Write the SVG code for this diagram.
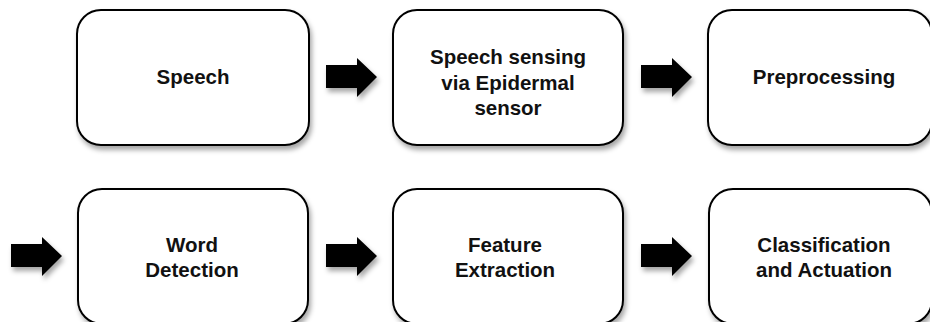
<svg xmlns="http://www.w3.org/2000/svg" width="930" height="322" viewBox="0 0 930 322">
<defs>
<filter id="sh" x="-10%" y="-10%" width="130%" height="140%">
<feDropShadow dx="2" dy="4" stdDeviation="2.5" flood-color="#000" flood-opacity="0.35"/>
</filter>
<path id="arr" d="M0,0 H31 V-7 L51,12 L31,32 V23 H0 Z"/>
</defs>
<style>
.box{fill:#fff;stroke:#000;stroke-width:2;filter:url(#sh)}
.lbl{font-family:"Liberation Sans",Arial,sans-serif;font-weight:bold;font-size:20.5px;fill:#111;text-anchor:middle}
.ar{fill:#000;filter:url(#sh)}
</style>
<rect width="930" height="322" fill="#fff"/>
<g id="connectors">
<use href="#arr" class="ar" x="326" y="65"/>
<use href="#arr" class="ar" x="641" y="65"/>
<use href="#arr" class="ar" x="11" y="244"/>
<use href="#arr" class="ar" x="326" y="244"/>
<use href="#arr" class="ar" x="641" y="244"/>
</g>
<g id="speech">
<rect class="box" x="77" y="10" width="232" height="135" rx="24"/>
<text class="lbl" x="193" y="84">Speech</text>
</g>
<g id="sensing">
<rect class="box" x="393" y="10" width="230" height="135" rx="24"/>
<text class="lbl" x="508" y="64">Speech sensing</text>
<text class="lbl" x="508" y="90">via Epidermal</text>
<text class="lbl" x="508" y="115">sensor</text>
</g>
<g id="preprocessing">
<rect class="box" x="708" y="10" width="224" height="135" rx="24"/>
<text class="lbl" x="824" y="84">Preprocessing</text>
</g>
<g id="word">
<rect class="box" x="78" y="189" width="230" height="135" rx="24"/>
<text class="lbl" x="192" y="252">Word</text>
<text class="lbl" x="192" y="277">Detection</text>
</g>
<g id="feature">
<rect class="box" x="393" y="189" width="230" height="135" rx="24"/>
<text class="lbl" x="505" y="252">Feature</text>
<text class="lbl" x="505" y="277">Extraction</text>
</g>
<g id="classification">
<rect class="box" x="709" y="189" width="223" height="135" rx="24"/>
<text class="lbl" x="824" y="252">Classification</text>
<text class="lbl" x="824" y="277">and Actuation</text>
</g>
</svg>
